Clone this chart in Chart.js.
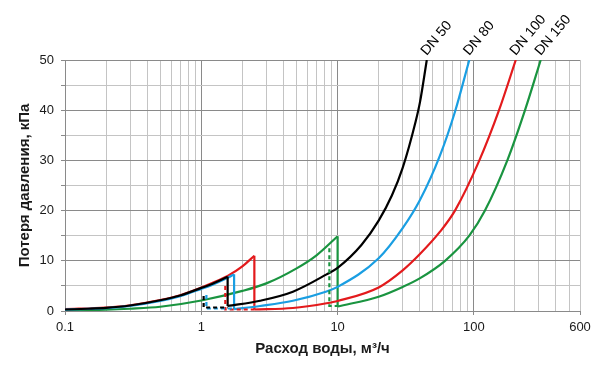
<!DOCTYPE html>
<html>
<head>
<meta charset="utf-8">
<script src="https://cdn.jsdelivr.net/npm/chart.js@4.4.1/dist/chart.umd.min.js"></script>
<style>
  body { margin: 0; background: #fff; }
  canvas { display: block; }
</style>
</head>
<body>
<canvas id="lossChart" width="600" height="366"></canvas>
<script>
// подписи кривых
const dnNames = ['DN 50', 'DN 80', 'DN 100', 'DN 150'];

// DN 50 (чёрная)
const dn50LowQ = [0.1, 0.15, 0.2, 0.3, 0.5, 0.7, 1, 1.2, 1.56];
const dn50LowP = [0.3, 0.45, 0.62, 1.1, 2.15, 3.1, 4.6, 5.4, 6.8];
const dn50MainQ = [1.56, 2.7, 4.7, 8.3, 10, 15, 20, 25, 30, 37.4, 40.2, 45.1];
const dn50MainP = [1.0, 2.05, 3.85, 7.3, 8.6, 13.2, 18, 23, 28.5, 37.8, 41.6, 50];
const dn50DashQ = [1.04, 1.04, 1.56];
const dn50DashP = [3.0, 0.7, 0.7];

// DN 80 (голубая)
const dn80LowQ = [0.1, 0.2, 0.3, 0.5, 0.7, 1, 1.2, 1.56, 1.74];
const dn80LowP = [0.28, 0.58, 1.02, 2.0, 2.95, 4.4, 5.2, 6.6, 7.3];
const dn80MainQ = [1.74, 2.7, 4.7, 8.3, 10, 20, 30, 40, 56.4, 72.6, 92.5];
const dn80MainP = [0.35, 1.0, 2.05, 3.9, 4.8, 10.5, 16.5, 22, 31, 39.7, 50];
const dn80DashQ = [1.09, 1.09, 1.74];
const dn80DashP = [3.2, 0.5, 0.5];

// DN 100 (красная)
const dn100LowQ = [0.1, 0.2, 0.3, 0.5, 0.7, 1, 1.2, 1.56, 2, 2.45];
const dn100LowP = [0.38, 0.7, 1.15, 2.2, 3.15, 4.7, 5.6, 7.0, 8.9, 11.0];
const dn100MainQ = [2.45, 4.7, 8.3, 10, 20, 30, 40, 56.4, 72.6, 109.6, 152.8, 202.8];
const dn100MainP = [0.3, 0.6, 1.55, 2.0, 4.7, 8.1, 11.3, 15.8, 20, 30, 40, 50];
const dn100DashQ = [1.5, 1.5, 2.45];
const dn100DashP = [5.0, 0.3, 0.3];

// DN 150 (зелёная)
const dn150LowQ = [0.1, 0.2, 0.3, 0.5, 1, 2, 3, 5, 7, 10];
const dn150LowP = [0.15, 0.25, 0.45, 0.85, 2.1, 4.0, 5.5, 8.5, 11.1, 14.9];
const dn150MainQ = [10, 20, 30, 40, 61.4, 92.5, 120.5, 175.8, 237, 309];
const dn150MainP = [0.9, 2.85, 4.8, 6.5, 10, 15, 20, 30, 40, 50];
const dn150DashQ = [8.7, 8.7, 10];
const dn150DashP = [12.5, 1.0, 1.0];

// оси
const xGridValues = [0.1, 0.2, 0.3, 0.4, 0.5, 0.6, 0.7, 0.8, 0.9,
  1, 2, 3, 4, 5, 6, 7, 8, 9,
  10, 20, 30, 40, 50, 60, 70, 80, 90,
  100, 200, 300, 400, 500, 600];
const xLabelValues = [0.1, 1, 10, 100, 600];

const colors = ['#000000', '#1a9ee2', '#e31a1c', '#1a9440'];

const toPts = (qs, ps) => qs.map((q, i) => ({ x: q, y: ps[i] }));
const isLabeled = v => xLabelValues.some(l => Math.abs(l - v) < 1e-9);
const isDecade = v => isLabeled(v) && v !== 600;

const curves = [
  { low: [dn50LowQ, dn50LowP], main: [dn50MainQ, dn50MainP], dash: [dn50DashQ, dn50DashP] },
  { low: [dn80LowQ, dn80LowP], main: [dn80MainQ, dn80MainP], dash: [dn80DashQ, dn80DashP] },
  { low: [dn100LowQ, dn100LowP], main: [dn100MainQ, dn100MainP], dash: [dn100DashQ, dn100DashP] },
  { low: [dn150LowQ, dn150LowP], main: [dn150MainQ, dn150MainP], dash: [dn150DashQ, dn150DashP] }
];

const datasets = [];
// пунктир сверху
curves.forEach((c, i) => {
  datasets.push({
    data: toPts(c.dash[0], c.dash[1]),
    borderColor: colors[i], borderWidth: 2.2, borderDash: [4, 3], tension: 0
  });
});
curves.forEach((c, i) => {
  const lq = c.low[0], lp = c.low[1];
  const mq = c.main[0], mp = c.main[1];
  datasets.push({ data: toPts(lq, lp), borderColor: colors[i], borderWidth: 2.2, cubicInterpolationMode: 'monotone' });
  // скачок на границе диапазона
  datasets.push({
    data: [{ x: lq[lq.length - 1], y: lp[lp.length - 1] }, { x: mq[0], y: mp[0] }],
    borderColor: colors[i], borderWidth: 2.2, tension: 0
  });
  datasets.push({ data: toPts(mq, mp), borderColor: colors[i], borderWidth: 2.2, cubicInterpolationMode: 'monotone' });
});

// подписи DN у верхних концов кривых
const dnLabelPlugin = {
  id: 'dnLabels',
  afterDatasetsDraw(chart) {
    const { ctx, scales: { x, y } } = chart;
    ctx.save();
    ctx.font = '14px "Liberation Sans", Arial, sans-serif';
    ctx.fillStyle = '#000';
    ctx.textAlign = 'left';
    ctx.textBaseline = 'alphabetic';
    curves.forEach((c, i) => {
      const mq = c.main[0];
      const px = x.getPixelForValue(mq[mq.length - 1]);
      const py = y.top - 4;
      ctx.save();
      ctx.translate(px, py);
      ctx.rotate(-50 * Math.PI / 180);
      ctx.fillText(dnNames[i], 0, 0);
      ctx.restore();
    });
    ctx.restore();
  }
};

Chart.defaults.font.family = '"Liberation Sans", Arial, sans-serif';
Chart.defaults.font.size = 13;
Chart.defaults.color = '#1a1a1a';

new Chart(document.getElementById('lossChart'), {
  type: 'scatter',
  data: { datasets },
  options: {
    responsive: false,
    animation: false,
    showLine: true,
    elements: { point: { radius: 0 } },
    layout: { padding: { top: 60, right: 20, left: 0, bottom: 0 } },
    plugins: { legend: { display: false }, tooltip: { enabled: false } },
    scales: {
      x: {
        type: 'logarithmic',
        min: 0.1,
        max: 600,
        afterBuildTicks: s => { s.ticks = xGridValues.map(v => ({ value: v })); },
        afterFit: s => { s.height = 55; },
        ticks: {
          autoSkip: false,
          maxRotation: 0,
          padding: 5,
          callback: v => isLabeled(v) ? String(v) : ''
        },
        grid: {
          color: c => isDecade(c.tick.value) ? '#8a8a8a' : '#c4c4c4',
          tickColor: c => isLabeled(c.tick.value) ? '#8a8a8a' : 'rgba(0,0,0,0)',
          tickLength: 4
        },
        border: { color: '#8a8a8a' },
        title: {
          display: true,
          text: 'Расход воды, м³/ч',
          font: { weight: 'bold', size: 15 },
          color: '#1a1a1a',
          padding: { top: 0, bottom: 8 }
        }
      },
      y: {
        min: 0,
        max: 50,
        afterFit: s => { s.width = 65; },
        ticks: {
          stepSize: 5,
          padding: 7,
          callback: v => v % 10 === 0 ? String(v) : ''
        },
        grid: {
          color: c => c.tick.value % 10 === 0 ? '#8a8a8a' : '#c4c4c4',
          tickColor: '#8a8a8a',
          tickLength: 4
        },
        border: { color: '#8a8a8a' },
        title: {
          display: true,
          text: 'Потеря давления, кПа',
          font: { weight: 'bold', size: 15 },
          color: '#1a1a1a',
          padding: { top: 16, bottom: 0 }
        }
      }
    }
  },
  plugins: [dnLabelPlugin]
});
</script>
</body>
</html>
